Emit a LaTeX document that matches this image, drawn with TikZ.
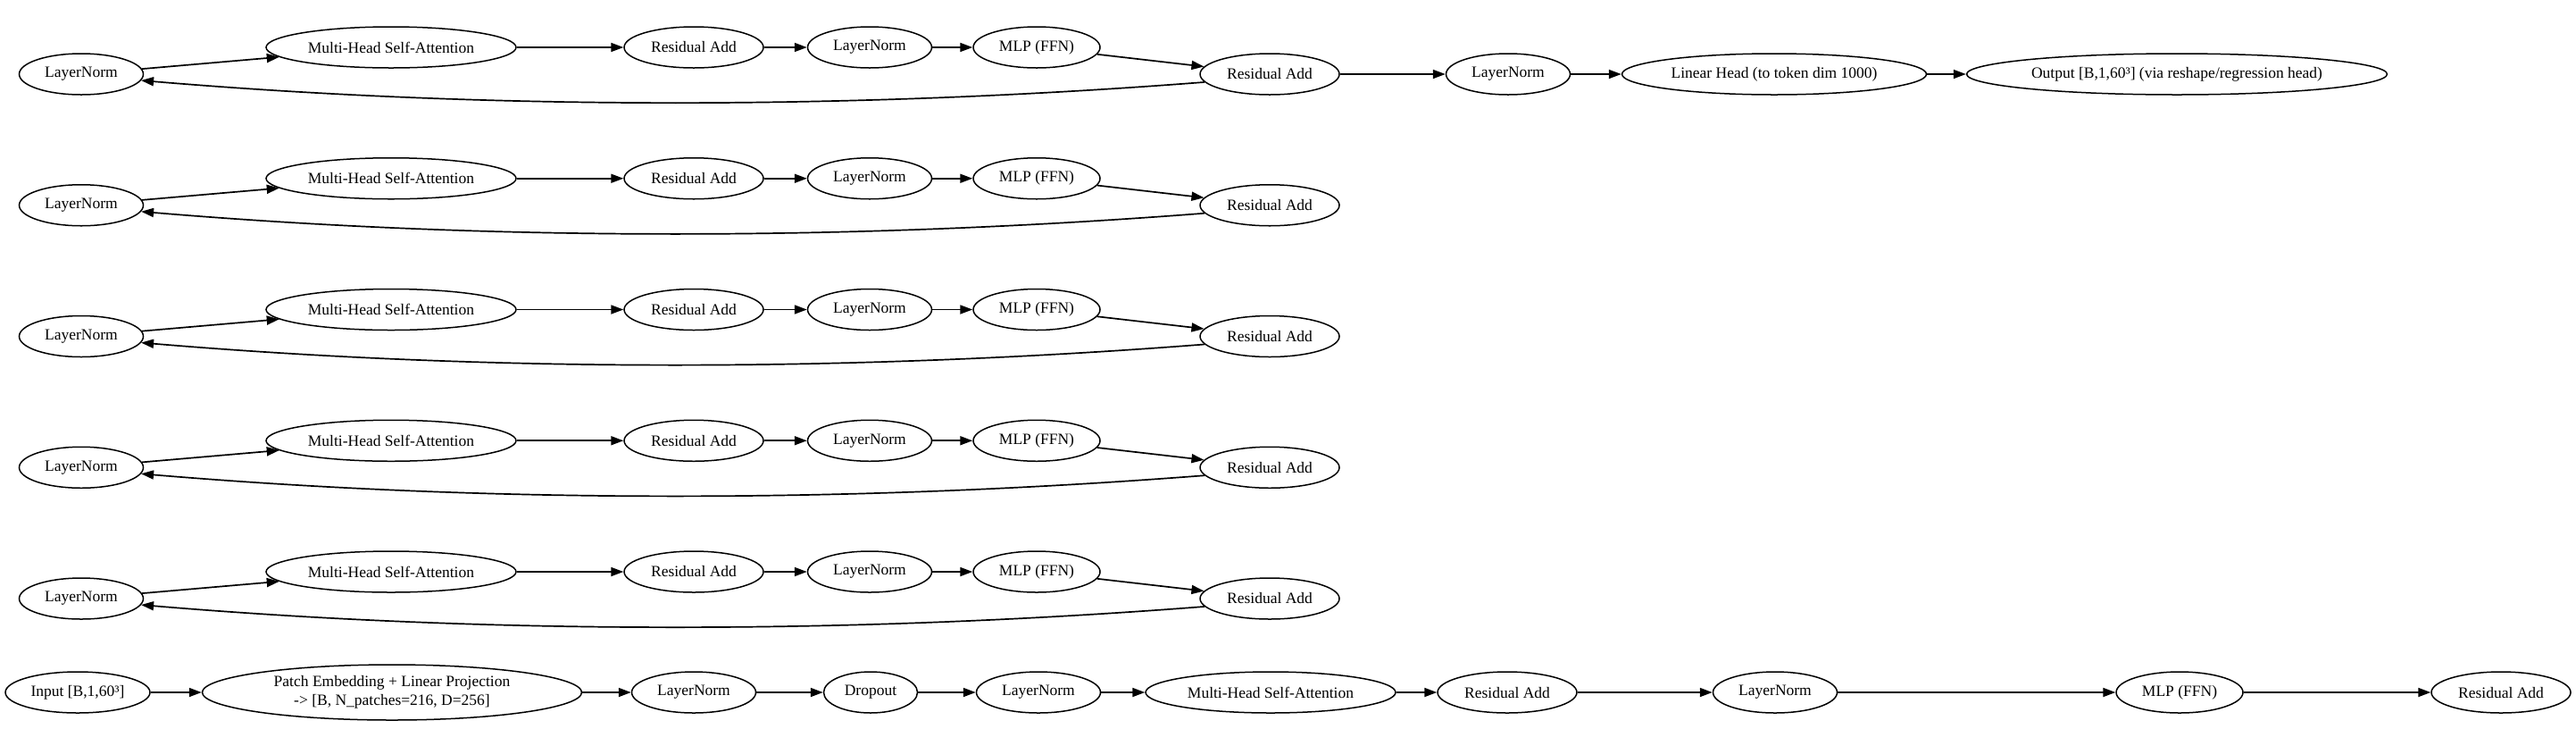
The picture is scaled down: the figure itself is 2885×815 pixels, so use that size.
\documentclass[tikz,border=0pt]{standalone}
\usepackage{fontspec}
\setmainfont{Liberation Serif}
\usetikzlibrary{arrows.meta,shapes.geometric}
\begin{document}
\begin{tikzpicture}[x=1pt,y=-1pt,
  nd/.style={draw, ellipse, line width=1.5pt, inner sep=0pt, minimum height=46pt,
    font=\fontsize{17.5}{21}\selectfont},
  ar/.style={draw, line width=1.7pt, -{Triangle[length=14pt,width=10pt]}},
  lnw/.style={minimum width=139pt},
  mhw/.style={minimum width=280pt},
  raw/.style={minimum width=156pt},
  mlw/.style={minimum width=142pt},
]
\useasboundingbox (0,0) rectangle (2885,815);
\foreach \k in {0,...,4}{
  \pgfmathsetmacro\yl{83+146.75*\k}
  \pgfmathsetmacro\yu{\yl-30}
  \pgfmathsetmacro\yc{\yl+40}
  \node[nd,lnw] (ln\k) at (91,\yl) {LayerNorm};
  \node[nd,mhw] (mh\k) at (438,\yu) {Multi-Head Self-Attention};
  \node[nd,raw] (ra\k) at (777,\yu) {Residual Add};
  \node[nd,lnw] (lb\k) at (974,\yu) {LayerNorm};
  \node[nd,mlw] (ml\k) at (1161,\yu) {MLP (FFN)};
  \node[nd,raw] (rb\k) at (1422,\yl) {Residual Add};
  \draw[ar] (ln\k) -- (mh\k);
  \draw[ar] (mh\k) -- (ra\k);
  \draw[ar] (ra\k) -- (lb\k);
  \draw[ar] (lb\k) -- (ml\k);
  \draw[ar] (ml\k) -- (rb\k);
  \draw[ar] (rb\k.187) .. controls (950,\yc) and (550,\yc) .. (ln\k.-6);
}
\node[nd,lnw] (lc) at (1689,83) {LayerNorm};
\node[nd,minimum width=341pt] (lh) at (1987,83) {Linear Head (to token dim 1000)};
\node[nd,minimum width=471pt,inner xsep=-4pt] (out) at (2438,83) {Output [B,1,60³] (via reshape/regression head)};
\draw[ar] (rb0) -- (lc);
\draw[ar] (lc) -- (lh);
\draw[ar] (lh) -- (out);
% bottom row
\node[nd,minimum width=162pt] (inp) at (87,775) {Input [B,1,60³]};
\node[nd,minimum width=425pt,minimum height=62pt,align=center] (pe) at (439,775) {Patch Embedding + Linear Projection\\-> [B, N\_patches=216, D=256]};
\node[nd,lnw] (b1) at (777,775) {LayerNorm};
\node[nd,minimum width=105pt] (dr) at (975,775) {Dropout};
\node[nd,lnw] (b2) at (1163,775) {LayerNorm};
\node[nd,mhw] (bm) at (1423,775) {Multi-Head Self-Attention};
\node[nd,raw] (br) at (1688,775) {Residual Add};
\node[nd,lnw] (b3) at (1988,775) {LayerNorm};
\node[nd,mlw] (bml) at (2441,775) {MLP (FFN)};
\node[nd,raw] (bra) at (2801,775) {Residual Add};
\draw[ar] (inp) -- (pe);
\draw[ar] (pe) -- (b1);
\draw[ar] (b1) -- (dr);
\draw[ar] (dr) -- (b2);
\draw[ar] (b2) -- (bm);
\draw[ar] (bm) -- (br);
\draw[ar] (br) -- (b3);
\draw[ar] (b3) -- (bml);
\draw[ar] (bml) -- (bra);
\end{tikzpicture}
\end{document}
